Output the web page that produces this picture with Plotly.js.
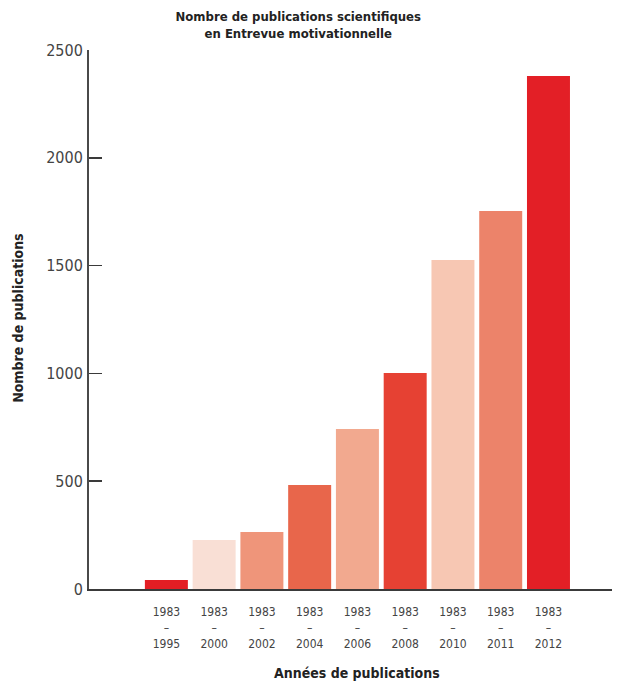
<!DOCTYPE html>
<html>
<head>
<meta charset="utf-8">
<script src="https://cdn.plot.ly/plotly-3.0.1.min.js"></script>
<style>html,body{margin:0;padding:0;background:#fff;}#chart{width:624px;height:683px;}</style>
</head>
<body>
<div id="chart"></div>
<script>
const startYear = "1983";
const endYears = ["1995", "2000", "2002", "2004", "2006", "2008", "2010", "2011", "2012"];
const publications = [42, 227, 264, 482, 742, 1002, 1526, 1753, 2379];
const barColors = ["#e31e24", "#f9dfd5", "#ef957a", "#e8664b", "#f2a98f", "#e64133", "#f7c7b3", "#ec836a", "#e31f26"];
const yTicks = [0, 500, 1000, 1500, 2000, 2500];
const chartTitle = "Nombre de publications scientifiques<br>en Entrevue motivationnelle";
const xTitle = "Années de publications";
const yTitle = "Nombre de publications";

const categories = endYears.map(y => startYear + "<br>–<br>" + y);

const narrow = '"Liberation Sans Narrow", "DejaVu Sans Condensed", Arial, sans-serif';

const trace = {
  type: "bar",
  x: categories,
  y: publications,
  marker: { color: barColors, line: { width: 0 } },
  hoverinfo: "x+y"
};

const layout = {
  width: 624,
  height: 683,
  paper_bgcolor: "#fff",
  plot_bgcolor: "#fff",
  margin: { l: 89, r: 12, t: 50, b: 94 },
  bargap: 0.1,
  showlegend: false,
  title: {
    text: "<b>" + chartTitle + "</b>",
    font: { family: narrow, size: 13, color: "#222" },
    x: 0.478, xanchor: "center",
    yref: "container",
    y: 0.969, yanchor: "middle"
  },
  xaxis: {
    type: "category",
    range: [-1.62, 9.33],
    showline: true,
    linecolor: "#3a3a3a",
    linewidth: 2,
    ticks: "",
    showgrid: false,
    zeroline: false,
    tickfont: { family: narrow, size: 12, color: "#444" },
    ticklabelstandoff: 11
  },
  yaxis: {
    range: [0, 2500],
    tickvals: yTicks,
    ticktext: yTicks.map(String),
    showline: true,
    linecolor: "#4a4a4a",
    linewidth: 2,
    ticks: "inside",
    ticklen: 13,
    tickwidth: 1.5,
    tickcolor: "#3a3a3a",
    showgrid: false,
    zeroline: false,
    tickfont: { family: narrow, size: 16, color: "#444" },
    ticklabelstandoff: 1
  },
  annotations: [
    {
      text: "<b>" + xTitle + "</b>",
      xref: "paper", yref: "paper",
      x: 0.512, y: -0.156,
      xanchor: "center", yanchor: "middle",
      showarrow: false,
      font: { family: narrow, size: 14, color: "#222" }
    },
    {
      text: "<b>" + yTitle + "</b>",
      xref: "paper", yref: "paper",
      x: -0.1358, y: 0.503,
      xanchor: "center", yanchor: "middle",
      textangle: -90,
      showarrow: false,
      font: { family: narrow, size: 14, color: "#222" }
    }
  ]
};

Plotly.newPlot("chart", [trace], layout, { displayModeBar: false, staticPlot: true });
</script>
</body>
</html>
